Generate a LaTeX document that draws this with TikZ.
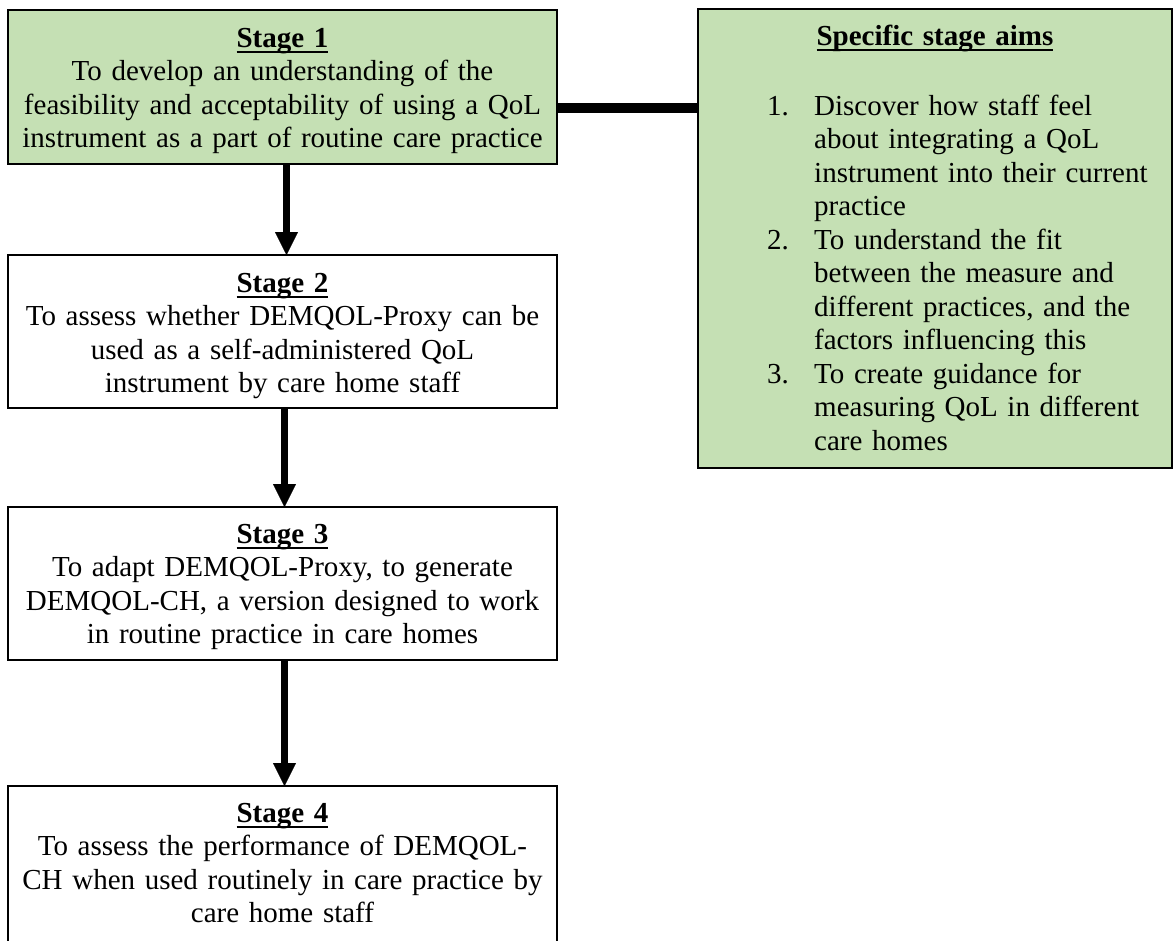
\documentclass[tikz,border=0pt]{standalone}
\usepackage{fontspec}
\setmainfont{Liberation Serif}
\usetikzlibrary{arrows.meta}
\definecolor{boxgreen}{HTML}{C5E0B4}
\newcommand{\myul}[1]{\setbox0\hbox{#1}\rlap{\vrule height -4pt depth 6.2pt width \wd0}\box0}
\tikzset{
  stagebox/.style={draw=black, line width=1.8pt, minimum width=549pt, inner sep=0pt, outer sep=0pt},
  greenfill/.style={fill=boxgreen},
  whitefill/.style={fill=white},
  boxtext/.style={font=\fontsize{29}{33.5}\selectfont, text width=545pt, align=center, inner sep=0pt, anchor=base},
  itemtext/.style={font=\fontsize{29}{33.5}\selectfont, text width=355pt, align=left, inner sep=0pt, anchor=base west},
  numtext/.style={font=\fontsize{29}{33.5}\selectfont, inner sep=0pt, anchor=base west},
  arr/.style={line width=7pt, -{Triangle[width=23pt,length=23pt,line width=0.1pt]}},
  conn/.style={line width=10pt}
}
\begin{document}
\begin{tikzpicture}[x=1pt,y=-1pt]
\useasboundingbox (0,0) rectangle (1174,940);
\clip (0,0) rectangle (1174,940);
\fill[white] (0,0) rectangle (1174,940);

% stage boxes
\node[stagebox, greenfill, minimum height=154pt] (s1) at (282.5,87) {};
\node[stagebox, whitefill, minimum height=153pt] (s2) at (282.5,331.5) {};
\node[stagebox, whitefill, minimum height=153pt] (s3) at (282.5,583.5) {};
\node[stagebox, whitefill, minimum height=162pt] (s4) at (282.5,867) {};

% aims box
\node[stagebox, greenfill, minimum width=474pt, minimum height=459pt] (r) at (935,238.5) {};

% texts
\node[boxtext] (t1) at (282.5,47) {\myul{\textbf{Stage 1}}\\To develop an understanding of the\\feasibility and acceptability of using a QoL\\instrument as a part of routine care practice};
\node[boxtext] (t2) at (282.5,292) {\myul{\textbf{Stage 2}}\\To assess whether DEMQOL-Proxy can be\\used as a self-administered QoL\\instrument by care home staff};
\node[boxtext] (t3) at (282.5,543) {\myul{\textbf{Stage 3}}\\To adapt DEMQOL-Proxy, to generate\\DEMQOL-CH, a version designed to work\\in routine practice in care homes};
\node[boxtext] (t4) at (282.5,822) {\myul{\textbf{Stage 4}}\\To assess the performance of DEMQOL-\\CH when used routinely in care practice by\\care home staff};

\node[boxtext, text width=460pt] (rh) at (935,45) {\myul{\textbf{Specific stage aims}}};

\node[numtext] (n1) at (767,115) {1.};
\node[itemtext] (a1) at (814,115) {Discover how staff feel\\about integrating a QoL\\instrument into their current\\practice};
\node[numtext] (n2) at (767,249) {2.};
\node[itemtext] (a2) at (814,249) {To understand the fit\\between the measure and\\different practices, and the\\factors influencing this};
\node[numtext] (n3) at (767,383) {3.};
\node[itemtext] (a3) at (814,383) {To create guidance for\\measuring QoL in different\\care homes};

% connectors
\draw[conn] ([yshift=-21pt]s1.east) -- ([yshift=-21pt]s1.east -| r.west);
\draw[arr] ([xshift=4pt]s1.south) -- ([xshift=4pt]s2.north);
\draw[arr] ([xshift=2pt]s2.south) -- ([xshift=2pt]s3.north);
\draw[arr] ([xshift=2pt]s3.south) -- ([xshift=2pt]s4.north);
\end{tikzpicture}
\end{document}
